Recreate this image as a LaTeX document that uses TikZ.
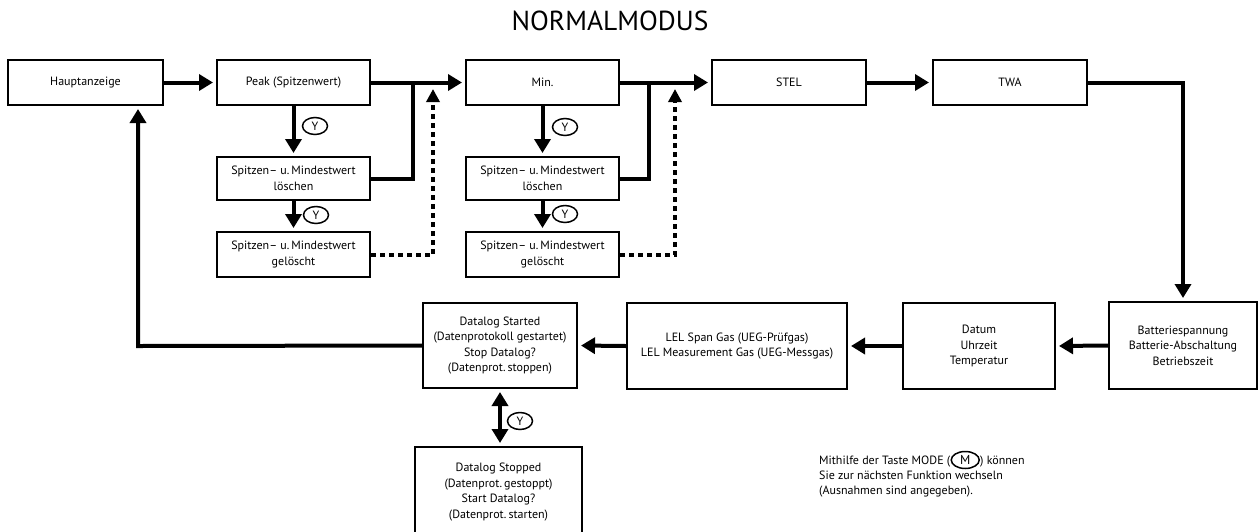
\documentclass[tikz,border=0pt]{standalone}
\usepackage{fontspec}
\setmainfont{PT Sans}
\usetikzlibrary{arrows.meta,shapes.geometric}
\begin{document}
\begin{tikzpicture}[x=1pt,y=-1pt,
  box/.style={draw, line width=2pt, rectangle, inner sep=0pt, align=center,
    font=\fontsize{12}{15.5}\selectfont, minimum height=45pt},
  flow/.style={line width=4pt, shorten >=3pt, -{Triangle[length=14pt,width=16pt]}},
  twoway/.style={line width=4pt, shorten >=3pt, shorten <=3pt,
    {Triangle[length=14pt,width=16pt]}-{Triangle[length=14pt,width=16pt]}},
  bar/.style={line width=4pt},
  dots/.style={line width=4pt, dash pattern=on 5pt off 4pt,
    -{Triangle[length=13pt,width=13pt]}},
  ykey/.style={draw, ellipse, line width=1.5pt, inner sep=0pt,
    minimum width=25pt, minimum height=17pt, font=\fontsize{12}{12}\selectfont},
  note/.style={anchor=base west, inner sep=0pt, font=\fontsize{12}{15}\selectfont},
]
\useasboundingbox (0,0) rectangle (1258,531);

% title
\node[font=\fontsize{27.5}{27.5}\selectfont] (title) at (610,21) {NORMALMODUS};

% top row
\node[box, minimum width=155pt] (haupt) at (85.5,82.5) {Hauptanzeige};
\node[box, minimum width=153pt] (peak) at (293.5,82.5) {Peak (Spitzenwert)};
\node[box, minimum width=153pt] (min) at (542.5,82.5) {Min.};
\node[box, minimum width=154pt] (stel) at (789,82.5) {STEL};
\node[box, minimum width=154pt] (twa) at (1010,82.5) {TWA};

% reset branches
\node[box, minimum width=153pt, minimum height=43pt] (del1) at (293.5,178.5) {Spitzen– u.\,Mindestwert\\löschen};
\node[box, minimum width=153pt] (done1) at (293.5,254.5) {Spitzen– u.\,Mindestwert\\gelöscht};
\node[box, minimum width=153pt, minimum height=43pt] (del2) at (542.5,178.5) {Spitzen– u.\,Mindestwert\\löschen};
\node[box, minimum width=153pt] (done2) at (542.5,254.5) {Spitzen– u.\,Mindestwert\\gelöscht};

% bottom row
\node[box, minimum width=148pt, minimum height=87pt] (batt) at (1183,345.5) {Batteriespannung\\Batterie-Abschaltung\\Betriebszeit};
\node[box, minimum width=152pt, minimum height=86pt] (datum) at (979,346) {Datum\\Uhrzeit\\Temperatur};
\node[box, minimum width=220pt, minimum height=86pt] (lel) at (737,346) {LEL Span Gas (UEG-Prüfgas)\\LEL Measurement Gas (UEG-Messgas)};
\node[box, minimum width=154pt, minimum height=85pt] (dstart) at (500,345.5) {Datalog Started\\(Datenprotokoll gestartet)\\Stop Datalog?\\(Datenprot.\,stoppen)};
\node[box, minimum width=167pt, minimum height=90pt] (dstop) at (498.5,492) {Datalog Stopped\\(Datenprot.\,gestoppt)\\Start Datalog?\\(Datenprot.\,starten)};

% junction and turning points
\coordinate (j1) at (413,82.5);
\coordinate (j2) at (649,82.5);
\coordinate (t1) at (433,89);
\coordinate (t2) at (675,89);
\coordinate (loop) at (138,346);

% main sequence
\draw[flow] (haupt.east) -- (peak.west);
\draw[flow] (peak.east) -- (min.west);
\draw[flow] (min.east) -- (stel.west);
\draw[flow] (stel.east) -- (twa.west);
\draw[flow] (twa.east) -| (batt.north);
\draw[flow] (batt.west) -- (datum.east);
\draw[flow] (datum.west) -- (lel.east);
\draw[flow] (lel.west) -- (dstart.east);
\draw[flow] (dstart.west) -- (loop) -- (loop |- haupt.south);

% peak branch
\draw[flow] (peak.south) -- (del1.north);
\draw[flow] (del1.south) -- (done1.north);
\draw[bar] (del1.east) -| (j1);
\draw[dots] (done1.east) -| (t1);

% min branch
\draw[flow] (min.south) -- (del2.north);
\draw[flow] (del2.south) -- (done2.north);
\draw[bar] (del2.east) -| (j2);
\draw[dots] (done2.east) -| (t2);

% datalog toggle
\draw[twoway] (dstart.south) -- (dstart.south |- dstop.north);

% Y keys
\node[ykey] (y1) at (315,126) {Y};
\node[ykey] (y2) at (316,215) {Y};
\node[ykey] (y3) at (565,127) {Y};
\node[ykey] (y4) at (565,214) {Y};
\node[ykey] (y5) at (520,421) {Y};

% mode key note
\node[note] (n1) at (819,464) {Mithilfe der Taste MODE (};
\node[draw, ellipse, line width=1.5pt, inner sep=0pt, minimum width=28pt,
  minimum height=17pt, font=\fontsize{13}{13}\selectfont, anchor=west]
  (mkey) at ([yshift=4pt]n1.base east) {M};
\node[note] (n1b) at (mkey.east |- n1.base) {) können};
\node[note] (n2) at (819,479) {Sie zur nächsten Funktion wechseln};
\node[note] (n3) at (819,494) {(Ausnahmen sind angegeben).};
\end{tikzpicture}
\end{document}
